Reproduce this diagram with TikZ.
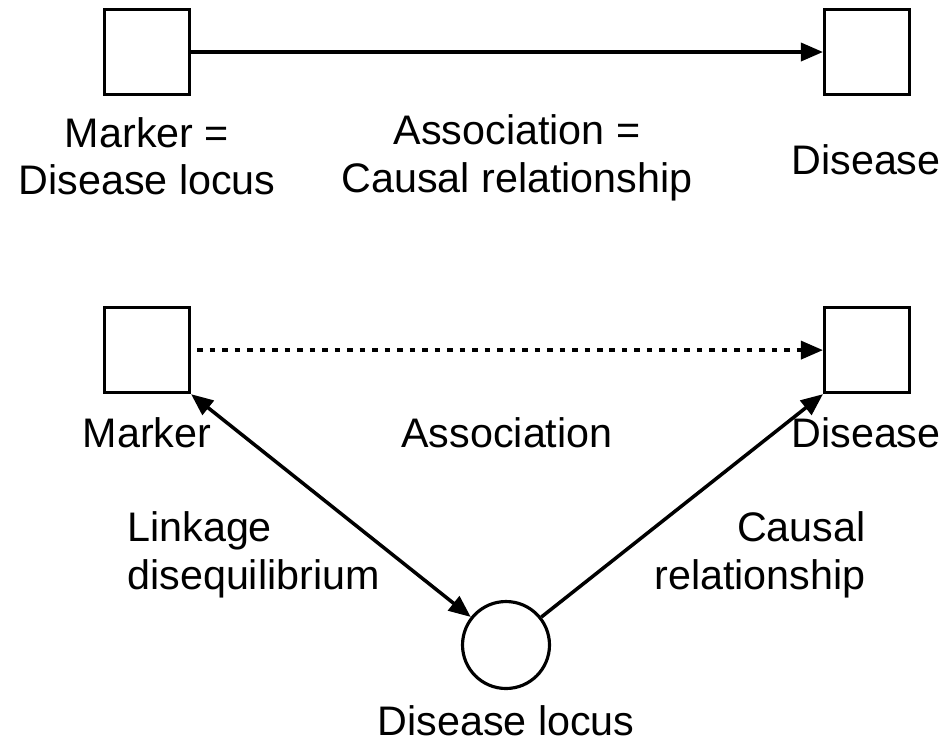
\documentclass[tikz,border=0pt]{standalone}
\usepackage{fontspec}
\setmainfont{Liberation Sans}
\usetikzlibrary{arrows.meta, positioning}

\begin{document}
\begin{tikzpicture}[
    x=0.02cm, y=-0.02cm,
    node distance=12.64cm,
    box/.style={rectangle, draw, line width=1.8pt, minimum size=1.7cm, inner sep=0pt},
    locusnode/.style={circle, draw, line width=1.8pt, minimum size=1.74cm, inner sep=0pt},
    lbl/.style={font=\fontsize{23.5}{27}\selectfont, align=center, inner sep=0pt},
    line/.style={draw, -{Triangle[length=0.44cm,width=0.36cm]}, line width=2pt}
]
\useasboundingbox (0,0) rectangle (949,745);

% direct association
\node [box] (markerA) at (147,52) {};
\node [box, right=of markerA] (diseaseA) {};
\node [lbl] (markerAtxt) at (147,156) {Marker =\\Disease locus};
\node [lbl] (assocAtxt) at (517,158) {Association =\\Causal relationship};
\node [lbl] (diseaseAtxt) at (866,160) {Disease};

% indirect association
\node [box, below=4.2cm of markerA] (markerB) {};
\node [box, right=of markerB] (diseaseB) {};
\node [locusnode] (locus) at (506,645) {};
\node [lbl] (markerBtxt) at (147,433) {Marker};
\node [lbl] (assocBtxt) at (507,433) {Association};
\node [lbl] (diseaseBtxt) at (866,433) {Disease};
\node [lbl, align=left, anchor=west] (ldtxt) at (127,555) {Linkage\\disequilibrium};
\node [lbl, align=right, anchor=east] (causaltxt) at (866,555) {Causal\\relationship};
\node [lbl] (locustxt) at (506,721) {Disease locus};

\path [line] (markerA) -- (diseaseA);
\path [line, dash pattern=on 0.11cm off 0.14cm, shorten <=0.12cm] (markerB) -- (diseaseB);
\path [line, {Triangle[length=0.44cm,width=0.36cm]}-{Triangle[length=0.44cm,width=0.36cm]}] (markerB.south east) -- (locus);
\path [line] (locus) -- (diseaseB.south west);
\end{tikzpicture}
\end{document}
